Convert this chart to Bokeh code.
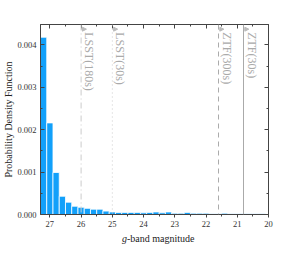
import math
from bokeh.plotting import figure
from bokeh.layouts import column
from bokeh.models import (ColumnDataSource, Range1d, FixedTicker, LinearAxis, Span,
                          Arrow, NormalHead, PrintfTickFormatter, Div)
from bokeh.core.properties import value
from bokeh.embed import file_html
from bokeh.resources import INLINE

# ---- data ----
bin_centers = [27.2, 27.0, 26.8, 26.6, 26.4, 26.2, 26.0, 25.8, 25.6, 25.4, 25.2, 25.0,
               24.8, 24.6, 24.4, 24.2, 24.0, 23.8, 23.6, 23.4, 23.2, 23.0, 22.8, 22.6,
               22.4, 22.2, 22.0, 21.8, 21.6, 21.4, 21.2, 21.0, 20.8, 20.6, 20.4, 20.2]
pdf_values = [0.00418, 0.00216, 0.00099, 0.00043, 0.00029, 0.000195, 0.00017, 0.000145,
              0.000125, 0.000125, 0.00008, 0.00006, 0.00005, 0.00005, 0.00005, 0.00005,
              0.00004, 0.00005, 0.00006, 0.00004, 0.00006, 0.00003, 0.00003, 0.00005,
              0.00003, 0.00003, 0.00003, 0.00002, 0.00002, 0.00003, 0.00002, 0.00002,
              0.00002, 0.00002, 0.00002, 0.00002]
bin_width = 0.2

limit_names = ["LSST(180s)", "LSST(30s)", "ZTF(300s)", "ZTF(30s)"]
limit_mags = [26.0, 25.0, 21.6, 20.8]
limit_dashes = ["6 3 1 3", "1 3", "5 4", "solid"]
limit_colors = ["#cccccc", "#cccccc", "#aaaaaa", "#aaaaaa"]

x_major_ticks = [20, 21, 22, 23, 24, 25, 26, 27]
x_minor_ticks = [20.5, 21.5, 22.5, 23.5, 24.5, 25.5, 26.5, 27.0]
y_major_ticks = [0.0, 0.001, 0.002, 0.003, 0.004]
y_minor_ticks = [0.0005, 0.0015, 0.0025, 0.0035]

x_lo, x_hi = 27.3, 20.0
y_lo, y_hi = 0.0, 0.00448

FONT = "Liberation Serif"
AX = "#444444"
BAR = "#12a0fa"

p = figure(width=277, height=230, output_backend="svg", toolbar_location=None,
           x_range=Range1d(x_lo, x_hi), y_range=Range1d(y_lo, y_hi),
           x_axis_location=None, y_axis_location=None,
           min_border_left=32, min_border_right=9, min_border_top=24, min_border_bottom=16)
p.grid.visible = False
p.outline_line_color = AX
p.background_fill_color = "white"
p.border_fill_color = "white"

src = ColumnDataSource(dict(x=bin_centers, top=pdf_values))
p.vbar(x="x", top="top", width=bin_width, bottom=0, source=src,
       fill_color=BAR, line_color="white", line_width=0.8)

xt = FixedTicker(ticks=x_major_ticks, minor_ticks=x_minor_ticks)
yt = FixedTicker(ticks=y_major_ticks, minor_ticks=y_minor_ticks)

def style(ax):
    ax.axis_line_color = AX
    ax.major_tick_line_color = AX
    ax.minor_tick_line_color = AX
    ax.major_label_text_font = FONT
    ax.major_label_text_font_size = "8.5px"
    ax.major_label_text_color = "#333333"

bottom = LinearAxis(ticker=xt)
style(bottom)
bottom.major_tick_out = 3
bottom.major_tick_in = 0
bottom.minor_tick_out = 2
bottom.minor_tick_in = 0
bottom.major_label_standoff = 3
bottom.major_label_overrides = {t: str(t) for t in x_major_ticks}
p.add_layout(bottom, "below")

top = LinearAxis(ticker=xt)
style(top)
top.major_tick_out = 0
top.major_tick_in = 4
top.minor_tick_out = 0
top.minor_tick_in = 2
top.major_label_overrides = {t: "" for t in x_major_ticks}
top.major_label_standoff = 0
p.add_layout(top, "above")

left = LinearAxis(ticker=yt, formatter=PrintfTickFormatter(format="%.3f"))
style(left)
left.major_tick_out = 0
left.major_tick_in = 4
left.minor_tick_out = 0
left.minor_tick_in = 2
left.major_label_standoff = 4
left.axis_label = "Probability Density Function"
left.axis_label_text_font = FONT
left.axis_label_text_font_style = "normal"
left.axis_label_text_font_size = "10px"
left.axis_label_text_color = "#222222"
left.axis_label_standoff = 0
p.add_layout(left, "left")

right = LinearAxis(ticker=yt)
style(right)
right.major_tick_out = 0
right.major_tick_in = 4
right.minor_tick_out = 0
right.minor_tick_in = 2
right.major_label_overrides = {t: "" for t in y_major_ticks}
right.major_label_standoff = 0
p.add_layout(right, "right")

# detection limits
for mag, dash, col in zip(limit_mags, limit_dashes, limit_colors):
    p.add_layout(Span(location=mag, dimension="height", line_color=col,
                      line_dash=dash, line_width=1))
    p.add_layout(Arrow(x_start=mag, x_end=mag - 0.17, y_start=0.00437, y_end=0.00437,
                       line_color="#bbbbbb", line_width=0.8,
                       end=NormalHead(size=4, fill_color="#bbbbbb", line_color="#bbbbbb")))

lsrc = ColumnDataSource(dict(x=limit_mags, y=[0.00430] * len(limit_mags), t=limit_names))
p.text(x="x", y="y", text="t", source=lsrc, angle=-math.pi / 2, x_offset=1,
       text_font=value(FONT), text_font_size="12px", text_color="#aaaaaa",
       text_align="left", text_baseline="bottom")

xlabel = Div(text=('<div style="font-family:\'Liberation Serif\';font-size:10px;'
                   'color:#222222;padding-left:122px;line-height:12px;white-space:nowrap">'
                   '<i>g</i>-band magnitude</div>'),
             width=277, height=12, margin=(0, 0, 0, 0))

layout = column(p, xlabel, spacing=0)
open("out.html", "w").write(file_html(layout, INLINE))
